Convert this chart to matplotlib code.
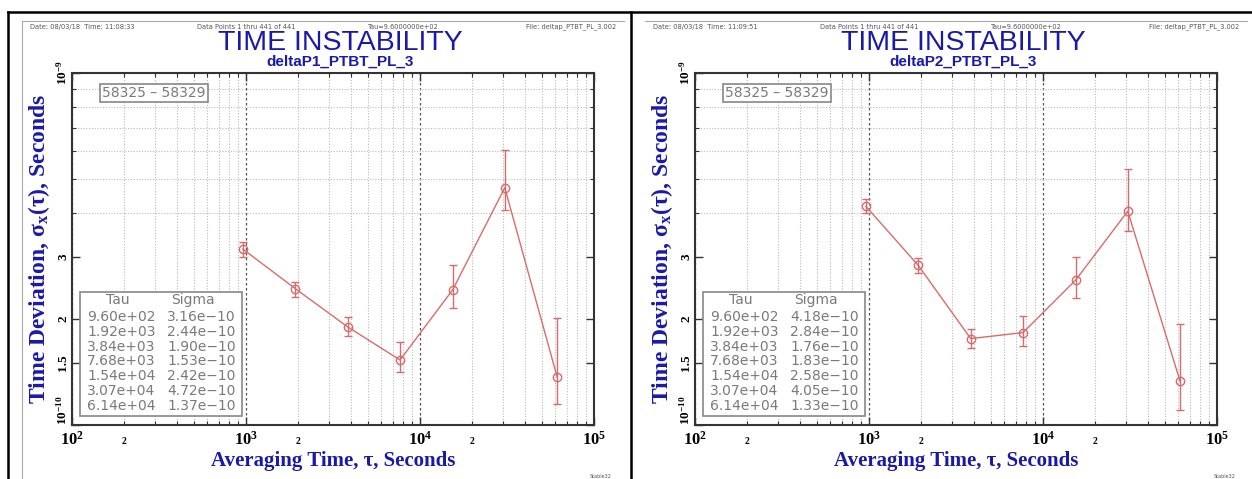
import matplotlib
matplotlib.use('Agg')
import matplotlib.pyplot as plt
from matplotlib.lines import Line2D
from matplotlib.patches import Rectangle
from matplotlib.ticker import FixedLocator, FixedFormatter

W, H = 1252, 479
plt.rcParams['mathtext.fontset'] = 'custom'
plt.rcParams['mathtext.rm'] = 'Liberation Serif:bold'
plt.rcParams['mathtext.bf'] = 'Liberation Serif:bold'
plt.rcParams['mathtext.it'] = 'Liberation Serif:bold:italic'

# ---------------- data ----------------
tau = [9.60e2, 1.92e3, 3.84e3, 7.68e3, 1.54e4, 3.07e4, 6.14e4]

sigma_p1 = [3.16e-10, 2.44e-10, 1.90e-10, 1.53e-10, 2.42e-10, 4.72e-10, 1.37e-10]
lo_p1 = [3.01e-10, 2.31e-10, 1.79e-10, 1.41e-10, 2.15e-10, 4.08e-10, 1.15e-10]
hi_p1 = [3.30e-10, 2.55e-10, 2.03e-10, 1.72e-10, 2.84e-10, 6.04e-10, 2.02e-10]

sigma_p2 = [4.18e-10, 2.84e-10, 1.76e-10, 1.83e-10, 2.58e-10, 4.05e-10, 1.33e-10]
lo_p2 = [3.99e-10, 2.71e-10, 1.66e-10, 1.68e-10, 2.30e-10, 3.56e-10, 1.10e-10]
hi_p2 = [4.39e-10, 2.98e-10, 1.87e-10, 2.04e-10, 3.01e-10, 5.33e-10, 1.93e-10]

x_major = [1e2, 1e3, 1e4, 1e5]
x_major_labels = [r'$\mathbf{10^{2}}$', r'$\mathbf{10^{3}}$', r'$\mathbf{10^{4}}$', r'$\mathbf{10^{5}}$']
x_minor = [m * d for d in (1e2, 1e3, 1e4) for m in range(2, 10)]
y_major = [1e-10, 1.5e-10, 2e-10, 3e-10, 1e-9]
y_major_labels = [r'$\mathbf{10^{-10}}$', '1.5', '2', '3', r'$\mathbf{10^{-9}}$']
y_minor = [m * 1e-10 for m in range(2, 10)]

panels = [
    dict(name='deltaP1_PTBT_PL_3', time='11:08:33', sigma=sigma_p1, lo=lo_p1, hi=hi_p1),
    dict(name='deltaP2_PTBT_PL_3', time='11:09:51', sigma=sigma_p2, lo=lo_p2, hi=hi_p2),
]
mjd_range = '58325 \u2013 58329'

BLUE = '#1a1aa8'
RED = '#d86c6c'
GRAY = '#7a7a7a'

fig = plt.figure(figsize=(W / 100, H / 100), dpi=100)


def fx(px):
    return px / W


def fy(py):
    return 1 - py / H


def fline(x0, y0, x1, y1, **kw):
    fig.add_artist(Line2D([fx(x0), fx(x1)], [fy(y0), fy(y1)], transform=fig.transFigure, **kw))


# outer black borders
fline(8, 12, 1252, 12, color='black', lw=1.8)
fline(8, 12, 8, 479, color='black', lw=1.8)
fline(631, 12, 631, 479, color='black', lw=1.8)
# gray inner frame
fline(22, 21, 624, 21, color='#aaaaaa', lw=0.8)
fline(22, 21, 22, 479, color='#aaaaaa', lw=0.8)
fline(645, 21, 1247, 21, color='#aaaaaa', lw=0.8)

for i, p in enumerate(panels):
    off = 623 * i
    # header texts
    hy = fy(27)
    fig.text(fx(30 + off), hy, f'Date: 08/03/18  Time: {p["time"]}', fontsize=4.8, color='#555555', va='center')
    fig.text(fx(197 + off), hy, 'Data Points 1 thru 441 of 441', fontsize=4.8, color='#555555', va='center')
    fig.text(fx(368 + off), hy, 'Tau=9.6000000e+02', fontsize=4.8, color='#555555', va='center')
    fig.text(fx(616 + off), hy, 'File: deltap_PTBT_PL_3.002', fontsize=4.8, color='#555555', va='center', ha='right')
    fig.text(fx(340 + off), fy(43), 'TIME INSTABILITY', fontsize=20.5, color=BLUE,
             family='Liberation Sans', ha='center', va='center')
    fig.text(fx(340 + off), fy(62), p['name'], fontsize=11, color=BLUE, fontweight='bold',
             family='Liberation Sans', ha='center', va='center')
    fig.text(fx(612 + off), fy(476), 'Stable32', fontsize=3.5, color='#555555', ha='right', va='center')

    ax = fig.add_axes([fx(72 + off), fy(425), 522 / W, 352 / H])
    ax.set_xscale('log')
    ax.set_yscale('log')
    ax.set_xlim(1e2, 1e5)
    ax.set_ylim(1e-10, 1e-9)

    ax.xaxis.set_major_locator(FixedLocator(x_major))
    ax.xaxis.set_major_formatter(FixedFormatter(x_major_labels))
    ax.xaxis.set_minor_locator(FixedLocator(x_minor))
    ax.xaxis.set_minor_formatter(FixedFormatter(['2' if str(int(v))[0] == '2' else '' for v in x_minor]))
    ax.yaxis.set_major_locator(FixedLocator(y_major))
    ax.yaxis.set_major_formatter(FixedFormatter(y_major_labels))
    ax.yaxis.set_minor_locator(FixedLocator(y_minor))
    ax.yaxis.set_minor_formatter(FixedFormatter([''] * len(y_minor)))

    ax.tick_params(which='both', direction='in', top=True, right=True, color='#333333')
    ax.tick_params(which='major', length=6, width=1)
    ax.tick_params(which='minor', length=3, width=0.8)
    ax.tick_params(axis='x', which='major', labelsize=12, pad=4)
    ax.tick_params(axis='x', which='minor', labelsize=7, pad=9)
    ax.tick_params(axis='y', which='major', labelsize=9.5, pad=2)
    for lab in ax.get_xticklabels(which='both'):
        lab.set_family('Liberation Serif')
        lab.set_fontweight('bold')
    ylabs = ax.get_yticklabels()
    for k, lab in enumerate(ylabs):
        lab.set_family('Liberation Serif')
        lab.set_fontweight('bold')
        lab.set_rotation(90)
        lab.set_va('bottom' if k == 0 else 'center')

    ax.grid(True, which='major', axis='x', color='#555555', linestyle=(0, (2, 2)), lw=0.9)
    ax.grid(True, which='minor', axis='both', color='#bbbbbb', linestyle=(0, (1, 1.5)), lw=0.8)
    ax.grid(False, which='major', axis='y')
    for sp in ax.spines.values():
        sp.set_linewidth(1.5)
        sp.set_color('#333333')

    s = p['sigma']
    yerr = [[a - b for a, b in zip(s, p['lo'])], [b - a for a, b in zip(s, p['hi'])]]
    ax.errorbar(tau, s, yerr=yerr, fmt='-o', color=RED, mfc='none', mec=RED, ms=6,
                lw=1, elinewidth=1, capsize=2.6, capthick=1, zorder=5)

    ax.set_xlabel('Averaging Time, \u03c4, Seconds', fontsize=15, color=BLUE,
                  family='Liberation Serif', fontweight='bold')
    ax.xaxis.set_label_coords(0.5, -0.075)
    ax.set_ylabel('Time Deviation, \u03c3$_{\\mathbf{x}}$(\u03c4), Seconds', fontsize=17, color=BLUE,
                  family='Liberation Serif', fontweight='bold')
    ax.yaxis.set_label_coords(-0.038, 0.5)

    # date range box
    ax.text(0.157, 0.942, mjd_range, transform=ax.transAxes, fontsize=10, color=GRAY,
            ha='center', va='center', family='DejaVu Sans', zorder=6,
            bbox=dict(boxstyle='square,pad=0.15', fc='white', ec='#888888', lw=1.2))

    # stats table
    ax.add_patch(Rectangle((0.0153, 0.0256), 0.3107, 0.3524, transform=ax.transAxes,
                           fc='white', ec='#888888', lw=1.2, zorder=6))
    ax.text(0.088, 0.355, 'Tau', transform=ax.transAxes, fontsize=10, color=GRAY,
            ha='center', va='center', family='DejaVu Sans', zorder=7)
    ax.text(0.232, 0.355, 'Sigma', transform=ax.transAxes, fontsize=10, color=GRAY,
            ha='center', va='center', family='DejaVu Sans', zorder=7)
    for k, (t, sv) in enumerate(zip(tau, s)):
        yy = 0.307 - k * (0.307 - 0.054) / 6
        ax.text(0.0287, yy, f'{t:.2e}', transform=ax.transAxes, fontsize=10, color=GRAY,
                ha='left', va='center', family='DejaVu Sans', zorder=7)
        ax.text(0.182, yy, f'{sv:.2e}'.replace('-', '\u2212'), transform=ax.transAxes, fontsize=10,
                color=GRAY, ha='left', va='center', family='DejaVu Sans', zorder=7)

fig.savefig('out.png', dpi=100)
